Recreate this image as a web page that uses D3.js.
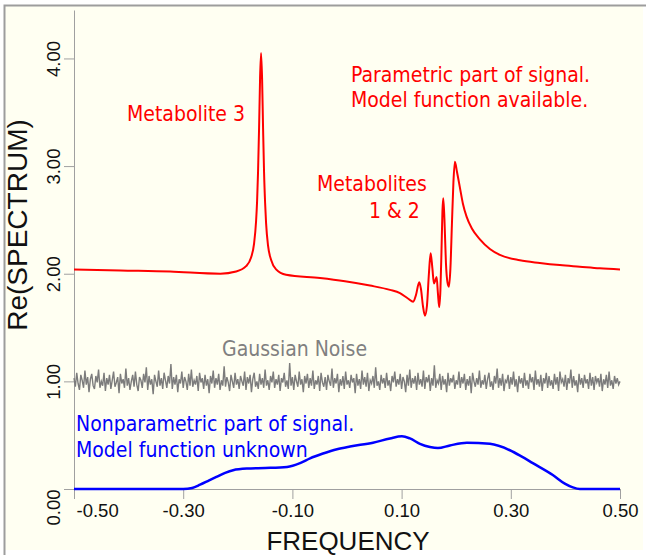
<!DOCTYPE html>
<html>
<head>
<meta charset="utf-8">
<script src="https://cdn.jsdelivr.net/npm/d3@7"></script>
<style>
  body { margin: 0; background: #fff; }
</style>
</head>
<body>
<div id="chart"></div>
<script>
// tick values
const freqTicks = [-0.5, -0.3, -0.1, 0.1, 0.3, 0.5];
const valueTicks = [0, 1, 2, 3, 4];

// parametric part (red)
const paramFreq = [-0.50, -0.415, -0.324, -0.232, -0.2031, -0.1848, -0.1757, -0.1702, -0.1665, -0.1647,
  -0.1629, -0.1610, -0.1592, -0.1574, -0.1555, -0.1537, -0.1519, -0.1500, -0.1482, -0.1446,
  -0.1391, -0.1299, -0.1116, -0.0494, -0.0037, 0.0421, 0.0787, 0.0970, 0.1116, 0.1213,
  0.1262, 0.1323, 0.1354, 0.1391, 0.1427, 0.1464, 0.1500, 0.1532, 0.1564, 0.1592,
  0.1619, 0.1641, 0.1665, 0.1689, 0.1711, 0.1730, 0.1748, 0.1763, 0.1785, 0.1812,
  0.1840, 0.1866, 0.1894, 0.1921, 0.1949, 0.1976, 0.2013, 0.2068, 0.2123, 0.2190,
  0.2287, 0.2434, 0.2617, 0.2800, 0.3166, 0.3532, 0.3898, 0.4263, 0.4629, 0.50];
const paramValue = [2.04, 2.03, 2.02, 2.00, 2.02, 2.07, 2.15, 2.28, 2.49, 2.67,
  2.95, 3.36, 3.82, 4.05, 3.81, 3.35, 2.94, 2.66, 2.47, 2.26,
  2.13, 2.04, 1.99, 1.96, 1.93, 1.89, 1.85, 1.82, 1.77, 1.74,
  1.80, 1.92, 1.86, 1.70, 1.61, 1.70, 2.00, 2.19, 2.05, 1.91,
  1.94, 1.97, 1.82, 1.69, 1.85, 2.20, 2.58, 2.70, 2.50, 2.10,
  1.92, 1.88, 2.05, 2.45, 2.85, 3.04, 2.95, 2.80, 2.65, 2.53,
  2.42, 2.32, 2.23, 2.175, 2.125, 2.10, 2.08, 2.065, 2.05, 2.04];

// nonparametric part (blue)
const nonparamFreq = [-0.50, -0.30, -0.2836, -0.269, -0.2525, -0.2379, -0.2232, -0.2086, -0.1830, -0.150,
  -0.1098, -0.0860, -0.0677, -0.0439, -0.0183, 0.0055, 0.0476, 0.0787, 0.1006, 0.1153,
  0.1336, 0.1519, 0.1665, 0.1885, 0.2196, 0.2617, 0.2983, 0.3202, 0.3403, 0.3769,
  0.3989, 0.4135, 0.4263, 0.50];
const nonparamValue = [0, 0, 0.01, 0.04, 0.08, 0.115, 0.15, 0.175, 0.19, 0.195,
  0.205, 0.24, 0.285, 0.33, 0.37, 0.395, 0.43, 0.47, 0.49, 0.47,
  0.42, 0.39, 0.38, 0.405, 0.43, 0.42, 0.36, 0.30, 0.24, 0.13,
  0.05, 0.015, 0.00, 0.00];

// gaussian noise (gray), evenly spaced from -0.5 to 0.5
const noiseValue = [
  1.03, 0.95, 1.08, 0.98, 0.92, 1.06, 1.01, 0.94, 1.10, 0.97, 1.04, 0.90, 1.02, 1.07, 0.96, 0.93, 1.05, 0.99, 1.11, 0.94, 1.00, 0.96, 1.08, 0.91, 1.03,
  0.97, 1.06, 0.93, 1.01, 1.09, 0.95, 0.99, 1.04, 0.89, 1.07, 0.98, 1.02, 0.94, 1.12, 0.96, 1.03, 0.92, 1.00, 1.06, 0.95, 1.09, 0.97, 0.91, 1.04, 1.01,
  0.94, 1.07, 0.99, 1.13, 0.92, 1.05, 0.97, 1.02, 0.88, 1.06, 1.00, 0.95, 1.10, 0.96, 1.03, 0.93, 1.08, 1.01, 0.94, 1.05, 0.98, 1.16, 0.93, 1.04, 0.97,
  1.06, 0.90, 1.02, 0.98, 1.09, 0.94, 1.04, 1.00, 0.92, 1.07, 0.96, 1.11, 0.95, 1.01, 0.97, 1.05, 0.91, 1.08, 0.99, 1.03, 0.93, 1.06, 0.96, 1.02, 0.89,
  1.05, 0.98, 1.10, 0.94, 1.03, 0.97, 1.07, 0.92, 1.01, 0.96, 1.14, 0.95, 1.04, 0.99, 0.91, 1.06, 1.00, 0.94, 1.08, 0.97, 1.02, 0.93, 1.05, 1.00, 0.96,
  1.09, 0.92, 1.04, 0.98, 1.06, 0.90, 1.02, 1.08, 0.95, 1.00, 0.93, 1.07, 0.97, 1.03, 0.94, 1.11, 0.96, 1.01, 0.92, 1.05, 0.99, 1.09, 0.94, 1.02, 0.97,
  1.06, 0.91, 1.03, 0.99, 1.08, 0.95, 1.01, 0.93, 1.17, 0.96, 1.04, 0.92, 1.06, 1.00, 0.95, 1.09, 0.97, 1.02, 0.90, 1.05, 0.98, 1.07, 0.94, 1.03, 0.96,
  1.10, 0.93, 1.01, 0.97, 1.05, 0.91, 1.08, 0.99, 0.95, 1.04, 0.92, 1.06, 1.00, 0.96, 1.12, 0.94, 1.03, 0.98, 1.07, 0.90, 1.02, 0.96, 1.05, 0.93, 1.09,
  0.97, 1.01, 0.94, 1.06, 0.99, 1.03, 0.89, 1.07, 0.96, 1.02, 0.93, 1.10, 0.97, 1.04, 0.95, 1.08, 0.91, 1.01, 0.98, 1.05, 0.94, 1.13, 0.96, 1.00, 0.92,
  1.06, 0.98, 1.03, 0.94, 1.08, 0.96, 1.01, 0.91, 1.05, 0.99, 1.09, 0.95, 1.02, 0.97, 1.07, 0.93, 1.04, 1.00, 0.90, 1.06, 0.96, 1.11, 0.94, 1.03, 0.98,
  1.05, 0.92, 1.08, 0.97, 1.02, 0.95, 1.10, 0.93, 1.04, 0.99, 1.06, 0.91, 1.03, 0.96, 1.15, 0.94, 1.01, 0.98, 1.07, 0.92, 1.05, 0.97, 1.02, 0.90, 1.08,
  0.96, 1.03, 0.99, 1.06, 0.93, 1.01, 0.97, 1.09, 0.94, 1.04, 0.98, 1.07, 0.92, 1.02, 0.96, 1.05, 0.89, 1.08, 1.00, 0.95, 1.03, 0.97, 1.10, 0.94, 1.01,
  0.97, 1.06, 0.93, 1.02, 1.08, 0.95, 1.00, 0.92, 1.05, 0.98, 1.12, 0.94, 1.03, 0.96, 1.07, 0.91, 1.01, 0.99, 1.06, 0.93, 1.04, 0.97, 1.09, 0.95, 1.02,
  0.90, 1.05, 0.98, 1.03, 0.94, 1.08, 0.96, 1.01, 0.93, 1.07, 0.99, 1.04, 0.92, 1.10, 0.97, 1.02, 0.95, 1.06, 0.91, 1.03, 0.98, 1.08, 0.94, 1.05, 0.96,
  1.01, 0.93, 1.07, 0.97, 1.04, 0.91, 1.09, 0.99, 1.02, 0.95, 1.06, 0.92, 1.03, 0.98, 1.11, 0.94, 1.05, 0.96, 1.01, 0.90, 1.07, 0.97, 1.03, 0.94, 1.06,
  0.98, 1.02, 0.93, 1.08, 0.96, 1.04, 0.92, 1.05, 0.99, 1.03, 0.95, 1.07, 0.91, 1.02, 0.97, 1.06, 0.94, 1.09, 0.96, 1.01, 0.93, 1.05, 0.98, 1.03, 0.97, 1.00
];

// annotation text
const paramNote = ["Parametric part of signal.", "Model function available."];
const nonparamNote = ["Nonparametric part of signal.", "Model function unknown"];
const peakNotes = ["Metabolite 3", "Metabolites", "1 & 2"];
const noiseNote = "Gaussian Noise";

const width = 646, height = 555;
const axisFont = "'Liberation Sans', Arial, Helvetica, sans-serif";
const noteFont = "'DejaVu Sans Condensed', 'DejaVu Sans', sans-serif";

const svg = d3.select("#chart").append("svg")
  .attr("width", width)
  .attr("height", height);

// panel background + frame on top/left
svg.append("rect")
  .attr("x", 5).attr("y", 6)
  .attr("width", 638).attr("height", 544)
  .attr("fill", "#fffff2");
svg.append("path")
  .attr("d", "M4.5,555V5.5H646")
  .attr("fill", "none")
  .attr("stroke", "#9d9d9d")
  .attr("stroke-width", 2);

const x = d3.scaleLinear().domain([-0.5, 0.5]).range([74, 620]);
const y = d3.scaleLinear().domain([0, 4.45]).range([489, 10]);
const fmt = d => d.toFixed(2);   // plain hyphen minus like the original

// axes
const yAxis = svg.append("g")
  .attr("transform", "translate(74,0)")
  .call(d3.axisLeft(y).tickValues(valueTicks).tickFormat(fmt).tickSize(10).tickSizeOuter(0));
yAxis.selectAll("text")
  .attr("x", null).attr("dy", null)
  .attr("text-anchor", (d, i) => i === 0 ? "end" : "middle")
  .attr("transform", "translate(-14,0) rotate(-90)");

const xAxis = svg.append("g")
  .attr("transform", "translate(0,489)")
  .call(d3.axisBottom(x).tickValues(freqTicks).tickFormat(fmt).tickSize(10).tickSizeOuter(0));
xAxis.selectAll("text")
  .attr("y", 28).attr("dy", null)
  .attr("x", (d, i) => i === 0 ? 2 : 0)
  .attr("text-anchor", (d, i) => i === 0 ? "start" : "middle");

svg.selectAll(".domain, .tick line").attr("stroke", "#a0a0a0");
svg.selectAll(".tick text")
  .attr("fill", "#111")
  .style("font-family", axisFont)
  .style("font-size", "18.5px");

// axis titles
svg.append("text")
  .attr("x", 348).attr("y", 550)
  .attr("text-anchor", "middle")
  .style("font-family", axisFont).style("font-size", "26px")
  .attr("fill", "#111")
  .text("FREQUENCY");
svg.append("text")
  .attr("transform", "translate(27,225) rotate(-90)")
  .attr("text-anchor", "middle")
  .style("font-family", axisFont).style("font-size", "28px")
  .attr("fill", "#111")
  .text("Re(SPECTRUM)");

// curves
const line = d3.line()
  .x(d => x(d[0]))
  .y(d => y(d[1]))
  .curve(d3.curveMonotoneX);

const noiseX = d3.scaleLinear().domain([0, noiseValue.length - 1]).range([-0.5, 0.5]);

svg.append("path")
  .datum(noiseValue.map((v, i) => [noiseX(i), v]))
  .attr("d", d3.line().x(d => x(d[0])).y(d => y(d[1])))
  .attr("fill", "none")
  .attr("stroke", "#7c7c7c")
  .attr("stroke-width", 1.4);

svg.append("path")
  .datum(d3.zip(nonparamFreq, nonparamValue))
  .attr("d", line)
  .attr("fill", "none")
  .attr("stroke", "#0000ff")
  .attr("stroke-width", 2.5);

svg.append("path")
  .datum(d3.zip(paramFreq, paramValue))
  .attr("d", line)
  .attr("fill", "none")
  .attr("stroke", "#ff0000")
  .attr("stroke-width", 2);

// annotations
function note(txt, px, py, color) {
  svg.append("text")
    .attr("x", px).attr("y", py)
    .attr("fill", color)
    .style("font-family", noteFont)
    .style("font-size", "21px")
    .text(txt);
}

note(paramNote[0], 351, 82, "#ff0000");
note(paramNote[1], 351, 107, "#ff0000");
note(peakNotes[0], 127, 121, "#ff0000");
note(peakNotes[1], 317, 191, "#ff0000");
note(peakNotes[2], 369, 218, "#ff0000");
note(noiseNote, 222, 356, "#808080");
note(nonparamNote[0], 76, 431, "#0000ff");
note(nonparamNote[1], 76, 457, "#0000ff");
</script>
</body>
</html>
